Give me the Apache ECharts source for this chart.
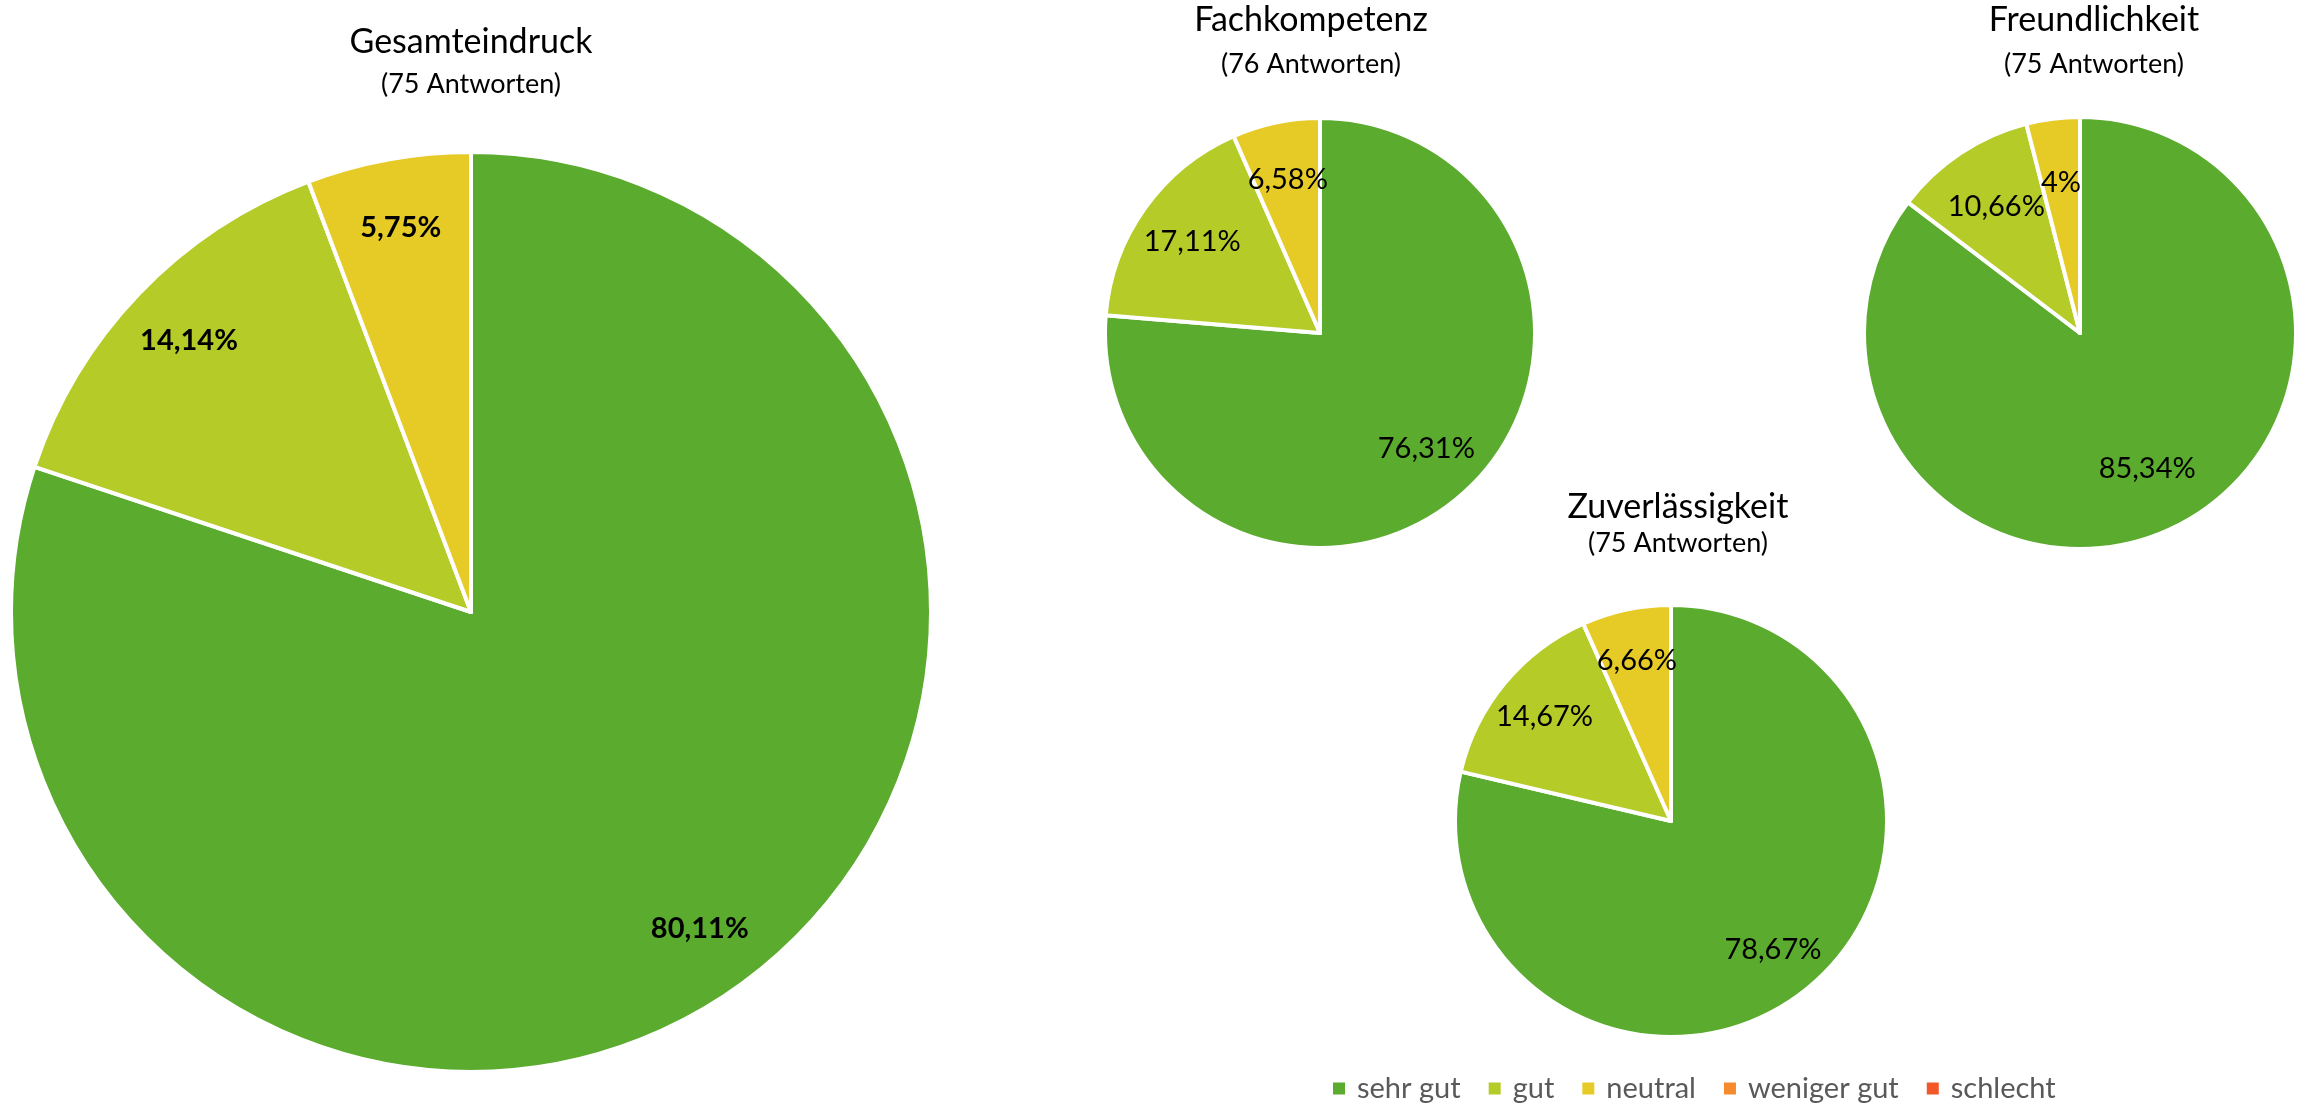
<!DOCTYPE html>
<html>
<head>
<meta charset="utf-8">
<script src="https://cdn.jsdelivr.net/npm/echarts@6/dist/echarts.min.js"></script>
<style>
  html, body { margin: 0; padding: 0; background: #fff; }
  #chart { width: 2310px; height: 1107px; }
</style>
</head>
<body>
<div id="chart"></div>
<script>
// Bewertungskategorien und Farben
var categories = ["sehr gut", "gut", "neutral", "weniger gut", "schlecht"];
var colors = ["#5aab2e", "#b4cb28", "#e6ca26", "#f58a2f", "#f2572a"];

// Anteile in Prozent je Frage
var gesamtValues = [80.11, 14.14, 5.75, 0, 0];
var fachValues = [76.31, 17.11, 6.58, 0, 0];
var freundValues = [85.34, 10.66, 4, 0, 0];
var zuverValues = [78.67, 14.67, 6.66, 0, 0];

var titles = ["Gesamteindruck", "Fachkompetenz", "Freundlichkeit", "Zuverlässigkeit"];
var answers = ["(75 Antworten)", "(76 Antworten)", "(75 Antworten)", "(75 Antworten)"];

var chartDom = document.getElementById("chart");
var myChart = echarts.init(chartDom);
var font = "Lato";

// Lage der vier Torten
var pies = [
  { values: gesamtValues, center: [471, 612], r: 460, labelPos: 0.85, bold: true, titleX: 471, titleTop: 22, gap: 6 },
  { values: fachValues, center: [1320, 333], r: 215, labelPos: 0.73, bold: false, titleX: 1311, titleTop: 0, gap: 8 },
  { values: freundValues, center: [2080, 333], r: 216, labelPos: 0.7, bold: false, titleX: 2094, titleTop: 0, gap: 8 },
  { values: zuverValues, center: [1671, 821], r: 216, labelPos: 0.76, bold: false, titleX: 1678, titleTop: 487, gap: 0 }
];

function fmt(v) {
  return String(v).replace(".", ",") + "%";
}

// Beschriftung weiter aussen als die Radiusmitte (wie Excel)
function labelLayoutFor(p) {
  var total = p.values.reduce(function (a, b) { return a + b; }, 0);
  return function (params) {
    var before = 0;
    for (var i = 0; i < params.dataIndex; i++) before += p.values[i];
    var mid = (before + p.values[params.dataIndex] / 2) / total * 2 * Math.PI;
    return {
      x: p.center[0] + Math.sin(mid) * p.r * p.labelPos,
      y: p.center[1] - Math.cos(mid) * p.r * p.labelPos,
      align: "center",
      verticalAlign: "middle"
    };
  };
}

var option = {
  backgroundColor: "#fff",
  animation: false,
  title: pies.map(function (p, i) {
    return {
      text: titles[i],
      subtext: answers[i],
      left: p.titleX,
      top: p.titleTop,
      textAlign: "center",
      itemGap: p.gap,
      padding: 0,
      textStyle: { fontFamily: font, fontSize: 34, fontWeight: "normal", color: "#000", lineHeight: 40 },
      subtextStyle: { fontFamily: font, fontSize: 27, color: "#000", lineHeight: 33 }
    };
  }),
  legend: {
    data: categories,
    left: 1328,
    top: 1069,
    icon: "rect",
    itemWidth: 12,
    itemHeight: 12,
    itemGap: 28,
    itemStyle: { borderWidth: 0 },
    textStyle: { fontFamily: font, fontSize: 29, color: "#595959", padding: [0, 0, 0, 7] }
  },
  series: pies.map(function (p) {
    return {
      type: "pie",
      center: p.center,
      radius: p.r,
      startAngle: 90,
      clockwise: true,
      avoidLabelOverlap: false,
      emphasis: { disabled: true },
      itemStyle: { borderColor: "#fff", borderWidth: 4 },
      label: {
        show: true,
        position: "inside",
        color: "#000",
        fontFamily: font,
        fontSize: 29,
        fontWeight: p.bold ? "bold" : "normal",
        formatter: function (params) {
          return params.value > 0 ? fmt(params.value) : "";
        }
      },
      labelLine: { show: false },
      labelLayout: labelLayoutFor(p),
      data: categories.map(function (name, i) {
        return { name: name, value: p.values[i], itemStyle: { color: colors[i] } };
      })
    };
  })
};

option && myChart.setOption(option);
</script>
</body>
</html>
